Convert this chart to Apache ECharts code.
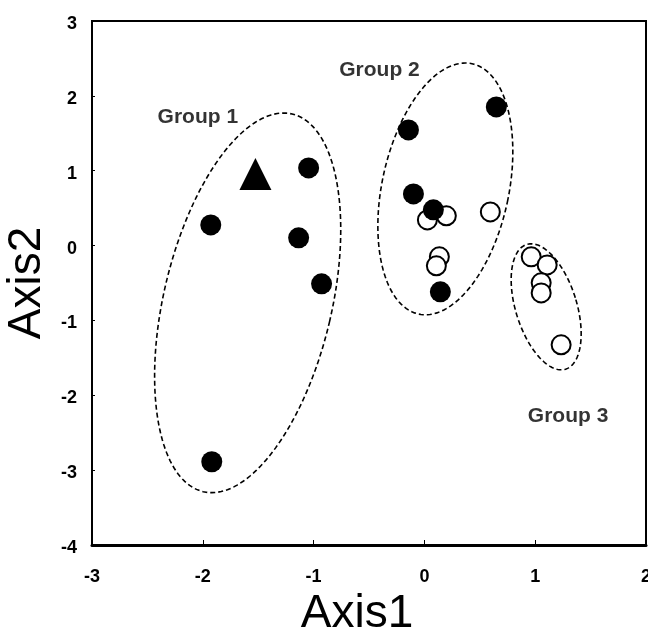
<!DOCTYPE html>
<html>
<head>
<meta charset="utf-8">
<script src="https://cdn.jsdelivr.net/npm/echarts@6/dist/echarts.min.js"></script>
<style>
html,body{margin:0;padding:0;background:#fff;}
#chart{width:648px;height:639px;}
</style>
</head>
<body>
<div id="chart"></div>
<script>
// ---- data ----
const xTicks = [-3, -2, -1, 0, 1, 2];
const yTicks = [-4, -3, -2, -1, 0, 1, 2, 3];
const group1Filled = [[-1.928, 0.276], [-1.045, 1.037], [-1.135, 0.103], [-0.928, -0.511], [-1.919, -2.888]];
const group1Triangle = [[-1.525, 0.957]];
const group2Filled = [[0.649, 1.852], [-0.144, 1.545], [-0.099, 0.690], [0.081, 0.477], [0.144, -0.618]];
const group2Open = [[0.027, 0.343], [0.198, 0.397], [0.595, 0.450], [0.135, -0.150], [0.108, -0.271]];
const group3Open = [[0.964, -0.151], [1.108, -0.258], [1.054, -0.498], [1.054, -0.632], [1.234, -1.326]];
const groupLabels = ['Group 1', 'Group 2', 'Group 3'];
const groupLabelAnchors = [[-2.045, 1.718], [-0.405, 2.346], [1.297, -2.274]];
const ellipseCenters = [[-1.595, -0.765], [0.189, 0.757], [1.099, -0.818]];

// ---- annotation shape styling (pixel semi-axes, tilt from vertical in degrees) ----
const ellipseShapes = [
  {a: 194, b: 84, tilt: 13.25},
  {a: 128, b: 63.4, tilt: 12},
  {a: 65.3, b: 30.5, tilt: -17.3}
];

const FONT = 'Liberation Sans, Arial, sans-serif';
const chart = echarts.init(document.getElementById('chart'), null, {renderer: 'canvas'});

const option = {
  animation: false,
  backgroundColor: '#fff',
  grid: {left: 92, right: 2, top: 21, bottom: 94, containLabel: false, outerBoundsMode: 'none',
         show: true, borderColor: '#000', borderWidth: 2, backgroundColor: 'transparent'},
  xAxis: {
    type: 'value', min: xTicks[0], max: xTicks[xTicks.length - 1], interval: 1,
    name: 'Axis1', nameLocation: 'middle', nameGap: 46,
    nameTextStyle: {fontFamily: FONT, fontSize: 46, color: '#000', padding: [0, 24, 0, 0]},
    axisLine: {show: true, onZero: false, lineStyle: {color: '#000', width: 3}},
    axisTick: {show: true, inside: true, length: 5, lineStyle: {color: '#000', width: 1}},
    axisLabel: {fontFamily: FONT, fontSize: 18, fontWeight: 'bold', color: '#000', margin: 23},
    splitLine: {show: false}
  },
  yAxis: {
    type: 'value', min: yTicks[0], max: yTicks[yTicks.length - 1], interval: 1,
    name: 'Axis2', nameLocation: 'middle', nameGap: 42,
    nameTextStyle: {fontFamily: FONT, fontSize: 46, color: '#000'},
    axisLine: {show: true, onZero: false, lineStyle: {color: '#000', width: 2}},
    axisTick: {show: true, inside: true, length: 3, lineStyle: {color: '#000', width: 1}},
    axisLabel: {fontFamily: FONT, fontSize: 18, fontWeight: 'bold', color: '#000', margin: 15, verticalAlign: 'top', padding: [-6, 0, 0, 0]},
    splitLine: {show: false}
  },
  series: [
    {
      type: 'custom',
      coordinateSystem: 'cartesian2d',
      clip: false,
      silent: true,
      data: ellipseCenters.map((c, i) => [c[0], c[1], i]),
      renderItem: function (params, api) {
        const c = api.coord([api.value(0), api.value(1)]);
        const e = ellipseShapes[api.value(2)];
        const th = e.tilt * Math.PI / 180;
        const pts = [];
        for (let k = 0; k < 180; k++) {
          const t = k / 180 * Math.PI * 2;
          const u = e.a * Math.sin(t), v = e.b * Math.cos(t);
          pts.push([c[0] + u * Math.sin(th) + v * Math.cos(th), c[1] - u * Math.cos(th) + v * Math.sin(th)]);
        }
        return {type: 'polygon', shape: {points: pts}, style: {fill: 'none', stroke: '#000', lineWidth: 1.6, lineDash: [5, 3]}};
      },
      z: 1
    },
    {
      type: 'scatter', symbol: 'circle', symbolSize: 19,
      data: group2Open.concat(group3Open),
      itemStyle: {color: '#fff', borderColor: '#000', borderWidth: 2, opacity: 1},
      z: 2
    },
    {
      type: 'scatter', symbol: 'circle', symbolSize: 21,
      data: group1Filled.concat(group2Filled),
      itemStyle: {color: '#000', opacity: 1},
      z: 3
    },
    {
      type: 'scatter', symbol: 'triangle', symbolSize: 32,
      data: group1Triangle,
      itemStyle: {color: '#000', opacity: 1},
      z: 3
    },
    {
      type: 'scatter', symbolSize: 0, silent: true,
      data: groupLabelAnchors.map((p, i) => ({value: p, name: groupLabels[i]})),
      label: {show: true, position: 'inside', formatter: '{b}', fontFamily: FONT, fontSize: 21, fontWeight: 'bold', color: '#000', textBorderWidth: 0},
      z: 4
    }
  ]
};
chart.setOption(option);
</script>
</body>
</html>
